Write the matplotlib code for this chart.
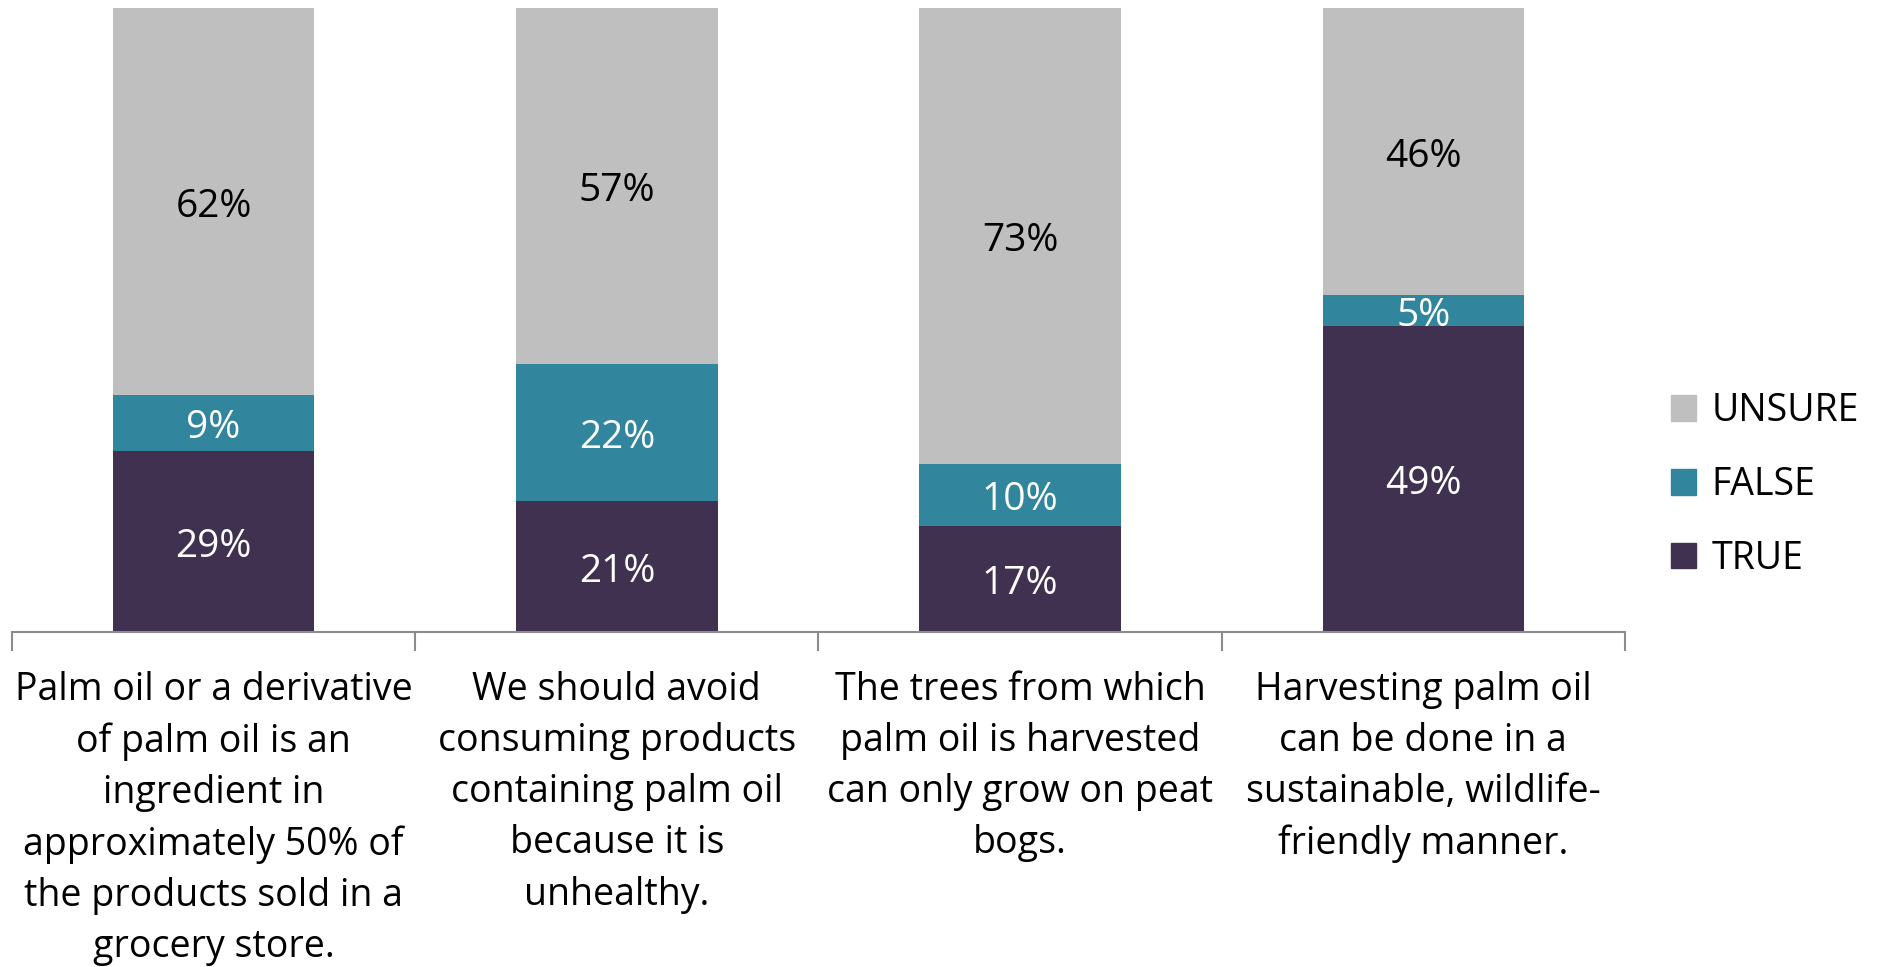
import numpy as np
import matplotlib.pyplot as plt
from matplotlib.patches import Patch

# Data
categories = [
    'Palm oil or a derivative\nof palm oil is an\ningredient in\napproximately 50% of\nthe products sold in a\ngrocery store.',
    'We should avoid\nconsuming products\ncontaining palm oil\nbecause it is\nunhealthy.',
    'The trees from which\npalm oil is harvested\ncan only grow on peat\nbogs.',
    'Harvesting palm oil\ncan be done in a\nsustainable, wildlife-\nfriendly manner.',
]
true_vals = [29, 21, 17, 49]
false_vals = [9, 22, 10, 5]
unsure_vals = [62, 57, 73, 46]

colors = {'TRUE': '#403151', 'FALSE': '#31859C', 'UNSURE': '#BFBFBF'}
font = 'Open Sans'
fs = 27

fig = plt.figure(figsize=(18.81, 9.67), dpi=100)
ax = fig.add_axes([12 / 1881, 1 - 632 / 967, (1625 - 12) / 1881, (632 - 8) / 967])

x = np.arange(len(categories))
bottom = np.zeros(len(categories))
series = [('TRUE', true_vals, 'white'), ('FALSE', false_vals, 'white'), ('UNSURE', unsure_vals, 'black')]
for name, vals, tcol in series:
    vals = np.array(vals, dtype=float)
    ax.bar(x, vals, width=0.5, bottom=bottom, color=colors[name], label=name)
    for xi, b, v in zip(x, bottom, vals):
        # small downward nudge so labels sit like the original
        ax.text(xi, b + v / 2 - 0.85, f'{int(v)}%', ha='center', va='center',
                color=tcol, fontsize=fs + 1, family=font)
    bottom += vals

ax.set_xlim(-0.5, len(categories) - 0.5)
ax.set_ylim(0, 100)
ax.set_yticks([])
ax.set_xticks(np.arange(-0.5, len(categories), 1.0))
ax.set_xticklabels([])
ax.tick_params(axis='x', length=14, width=1.5, color='#8c8c8c', direction='out')
for s in ['top', 'right', 'left']:
    ax.spines[s].set_visible(False)
ax.spines['bottom'].set_color('#8c8c8c')
ax.spines['bottom'].set_linewidth(1.5)

for xi, lab in zip(x, categories):
    ax.text(xi, -6.3, lab, ha='center', va='top', fontsize=fs, family=font,
            linespacing=1.45, transform=ax.transData)

handles = [Patch(color=colors[n]) for n in ['UNSURE', 'FALSE', 'TRUE']]
fig.legend(handles, ['UNSURE', 'FALSE', 'TRUE'], loc='center left',
           bbox_to_anchor=(1652 / 1881, 1 - 485 / 967), frameon=False,
           prop={'family': font, 'size': fs}, handlelength=0.68, handleheight=0.68,
           handletextpad=0.4, labelspacing=0.95, borderpad=0)

fig.savefig('out.png', dpi=100)
